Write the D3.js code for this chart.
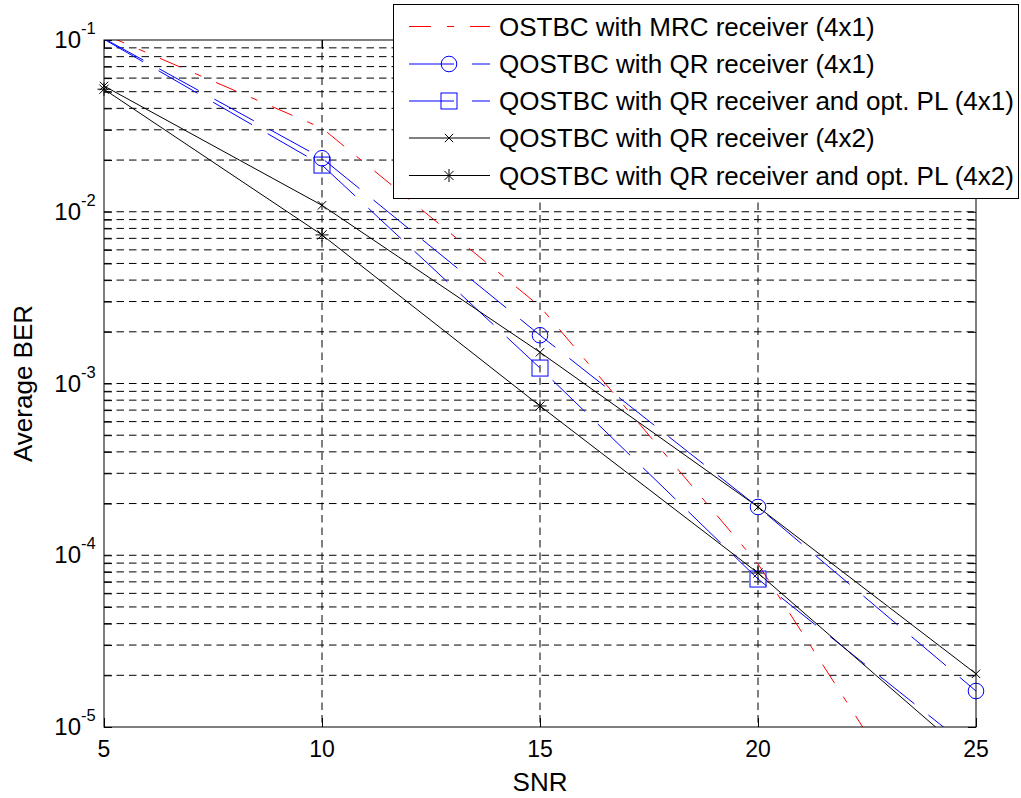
<!DOCTYPE html>
<html>
<head>
<meta charset="utf-8">
<script src="https://cdn.jsdelivr.net/npm/d3@7"></script>
<style>
  html, body { margin: 0; padding: 0; background: #fff; }
  svg { display: block; font-family: "Liberation Sans", Arial, sans-serif; }
</style>
</head>
<body>
<svg id="chart" width="1021" height="798"></svg>
<script>
// SNR points (dB)
const snr = [5, 10, 15, 20, 25];

// Average BER per scheme
const ostbcMrc41   = [0.108, 0.0307, 2.81e-3, 8.9e-5, 9.4e-7];
const qostbcQr41   = [0.102, 0.0205, 1.91e-3, 1.91e-4, 1.62e-5];
const qostbcQrPl41 = [0.101, 0.0187, 1.23e-3, 7.27e-5, 7.06e-6];
const qostbcQr42   = [0.054, 0.0109, 1.52e-3, 1.91e-4, 2.04e-5];
const qostbcQrPl42 = [0.0517, 7.33e-3, 7.4e-4, 7.88e-5, 6.25e-6];

const legendLabels = [
  "OSTBC with MRC receiver (4x1)",
  "QOSTBC with QR receiver (4x1)",
  "QOSTBC with QR receiver and opt. PL (4x1)",
  "QOSTBC with QR receiver (4x2)",
  "QOSTBC with QR receiver and opt. PL (4x2)"
];

const xTicks = [5, 10, 15, 20, 25];
const yDecades = [-5, -4, -3, -2, -1];

const series = [
  { values: ostbcMrc41,   color: "#ff0000", dash: "22,16,7,16", marker: null },
  { values: qostbcQr41,   color: "#0000ff", dash: "45,18",      marker: "circle" },
  { values: qostbcQrPl41, color: "#0000ff", dash: "45,18",      marker: "square" },
  { values: qostbcQr42,   color: "#000000", dash: null,         marker: "x" },
  { values: qostbcQrPl42, color: "#000000", dash: null,         marker: "star" }
];

const svg = d3.select("#chart");
const L = 104, R = 976, T = 40, B = 727;

const x = d3.scaleLinear().domain([5, 25]).range([L, R]);
const y = d3.scaleLog().domain([1e-5, 1e-1]).range([B, T]);

// Grid values: every decade and its 2..9 multiples
const yGrid = [];
for (let k = -5; k <= -1; k++) {
  for (let m = 1; m <= 9; m++) {
    const v = m * Math.pow(10, k);
    if (v >= 1e-5 && v <= 1e-1 + 1e-12) yGrid.push(v);
  }
}

// Grid lines
const grid = svg.append("g").attr("stroke", "#000").attr("stroke-width", 1)
  .attr("stroke-dasharray", "7.5,5").attr("fill", "none");
grid.selectAll("line.h").data(yGrid.filter(v => v > 1e-5 && v < 0.1)).enter().append("line")
  .attr("x1", L).attr("x2", R).attr("y1", d => y(d)).attr("y2", d => y(d));
grid.selectAll("line.v").data(xTicks.filter(v => v > 5 && v < 25)).enter().append("line")
  .attr("y1", T).attr("y2", B).attr("x1", d => x(d)).attr("x2", d => x(d));

// Axes with inward ticks on all four sides
function styleAxis(g) {
  g.select(".domain").remove();
  g.selectAll(".tick line").attr("stroke", "#000").attr("stroke-width", 1);
  g.selectAll(".tick text").remove();
}
svg.append("g").attr("transform", `translate(0,${B})`)
  .call(d3.axisBottom(x).tickValues(xTicks).tickSize(-9)).call(styleAxis);
svg.append("g").attr("transform", `translate(0,${T})`)
  .call(d3.axisTop(x).tickValues(xTicks).tickSize(-9)).call(styleAxis);
svg.append("g").attr("transform", `translate(${L},0)`)
  .call(d3.axisLeft(y).tickValues(yGrid).tickSize(-8)).call(styleAxis);
svg.append("g").attr("transform", `translate(${R},0)`)
  .call(d3.axisRight(y).tickValues(yGrid).tickSize(-8)).call(styleAxis);

// X tick labels
svg.append("g").selectAll("text").data(xTicks).enter().append("text")
  .attr("x", d => x(d)).attr("y", 756.5).attr("text-anchor", "middle")
  .attr("font-size", 23).attr("fill", "#000").text(d => d);

// Y tick labels as 10^k
svg.append("g").selectAll("text").data(yDecades).enter().append("text")
  .attr("x", 81).attr("y", d => y(Math.pow(10, d)) + 8)
  .attr("text-anchor", "end").attr("font-size", 24).attr("fill", "#000").text("10");
svg.append("g").selectAll("text").data(yDecades).enter().append("text")
  .attr("x", 81).attr("y", d => y(Math.pow(10, d)) - 6)
  .attr("font-size", 16.5).attr("fill", "#000").text(d => String(d));

// Axis labels
svg.append("text").attr("x", (L + R) / 2).attr("y", 791).attr("text-anchor", "middle")
  .attr("font-size", 26).attr("fill", "#000").text("SNR");
svg.append("text").attr("transform", `translate(31.5,${(T + B) / 2}) rotate(-90)`)
  .attr("text-anchor", "middle").attr("font-size", 26).attr("fill", "#000").text("Average BER");

// Data lines, clipped to the axes box
svg.append("defs").append("clipPath").attr("id", "plotClip")
  .append("rect").attr("x", L).attr("y", T).attr("width", R - L).attr("height", B - T);

const line = d3.line().x((d, i) => x(snr[i])).y(d => y(d));
const plot = svg.append("g").attr("clip-path", "url(#plotClip)");
series.forEach(s => {
  plot.append("path").datum(s.values).attr("d", line)
    .attr("fill", "none").attr("stroke", s.color).attr("stroke-width", 1)
    .attr("stroke-dasharray", s.dash);
});

// Marker shapes
function drawMarker(g, type, cx, cy, color) {
  if (type === "circle") {
    g.append("circle").attr("cx", cx).attr("cy", cy).attr("r", 7.8)
      .attr("fill", "none").attr("stroke", color).attr("stroke-width", 1);
  } else if (type === "square") {
    g.append("rect").attr("x", cx - 8).attr("y", cy - 8).attr("width", 16).attr("height", 16)
      .attr("fill", "none").attr("stroke", color).attr("stroke-width", 1);
  } else if (type === "x") {
    const r = 4.2;
    g.append("path").attr("d", `M${cx - r},${cy - r}L${cx + r},${cy + r}M${cx - r},${cy + r}L${cx + r},${cy - r}`)
      .attr("stroke", color).attr("stroke-width", 1).attr("fill", "none");
  } else if (type === "star") {
    const r = 6.5, d = 4.6;
    g.append("path").attr("d",
      `M${cx},${cy - r}L${cx},${cy + r}M${cx - r},${cy}L${cx + r},${cy}` +
      `M${cx - d},${cy - d}L${cx + d},${cy + d}M${cx - d},${cy + d}L${cx + d},${cy - d}`)
      .attr("stroke", color).attr("stroke-width", 1).attr("fill", "none");
  }
}

// Markers are drawn only when their centre lies inside the axes
const markers = svg.append("g");
series.forEach(s => {
  if (!s.marker) return;
  s.values.forEach((v, i) => {
    if (v < 1e-5 || v > 1e-1) return;
    drawMarker(markers, s.marker, x(snr[i]), y(v), s.color);
  });
});

// Axes box
svg.append("rect").attr("x", L).attr("y", T).attr("width", R - L).attr("height", B - T)
  .attr("fill", "none").attr("stroke", "#000").attr("stroke-width", 1);

// Legend
const lg = svg.append("g");
lg.append("rect").attr("x", 393.5).attr("y", 4.5).attr("width", 625).attr("height", 194)
  .attr("fill", "#fff").attr("stroke", "#000").attr("stroke-width", 1);
const rowY = [26.5, 64, 101, 138, 175.5];
series.forEach((s, i) => {
  const ry = rowY[i];
  lg.append("line").attr("x1", 409).attr("x2", 490).attr("y1", ry).attr("y2", ry)
    .attr("stroke", s.color).attr("stroke-width", 1).attr("stroke-dasharray", s.dash);
  if (s.marker) drawMarker(lg, s.marker, 449, ry, s.color);
  lg.append("text").attr("x", 499).attr("y", ry + 9.3).attr("font-size", 26)
    .attr("fill", "#000").text(legendLabels[i]);
});
</script>
</body>
</html>
